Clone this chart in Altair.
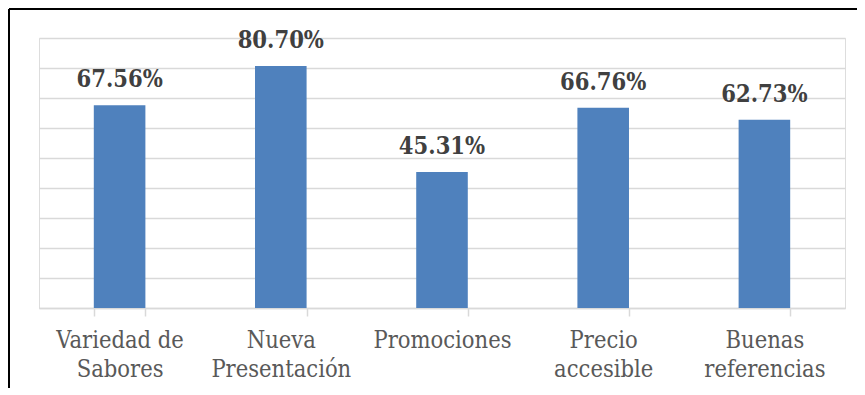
import altair as alt
import pandas as pd

categories = ["Variedad de\nSabores", "Nueva\nPresentación", "Promociones", "Precio\naccesible", "Buenas\nreferencias"]
values = [0.6756, 0.8070, 0.4531, 0.6676, 0.6273]
grid_values = [0.0, 0.1, 0.2, 0.3, 0.4, 0.5, 0.6, 0.7, 0.8, 0.9]

df = pd.DataFrame({"cat": categories, "val": values})

x = alt.X("cat:N", sort=categories, title=None,
          scale=alt.Scale(paddingInner=0.68, paddingOuter=0.34),
          axis=alt.Axis(labelAngle=0, labelExpr="split(datum.label, '\\n')",
                        labelFont="DejaVu Serif Condensed", labelFontSize=23.5, labelColor="#595959",
                        labelLineHeight=29, labelPadding=12, labelBaseline="top",
                        domainColor="#d9d9d9", domainWidth=1.5,
                        tickColor="#d9d9d9", tickWidth=1.5, tickSize=8, tickBand="extent",
                        grid=False))
y = alt.Y("val:Q", title=None,
          scale=alt.Scale(domain=[0, 0.9], nice=False),
          axis=alt.Axis(values=grid_values, labels=False, ticks=False, labelOverlap=False,
                        domain=False, grid=True, gridColor="#d9d9d9", gridWidth=1.5))

base = alt.Chart(df).encode(x=x, y=y)
bars = base.mark_bar(color="#4f81bd")
text = base.mark_text(font="DejaVu Serif Condensed", fontSize=23.5, fontWeight="bold",
                      color="#404040", baseline="bottom", dy=-13).encode(
    text=alt.Text("val:Q", format=".2%"))

top_border = alt.Chart(df).mark_rule(color="black", strokeWidth=2).encode(
    x=alt.value(-30), x2=alt.value(900), y=alt.value(-29))
left_border = alt.Chart(df).mark_rule(color="black", strokeWidth=2).encode(
    x=alt.value(-30), y=alt.value(-29), y2=alt.value(400))

chart = alt.layer(bars, text, top_border, left_border).properties(
    width=806, height=270,
    autosize=alt.AutoSizeParams(type="none"),
    padding={"left": 31, "top": 30, "right": 12, "bottom": 80},
).configure_view(stroke=None).configure(background="white")

chart.save("out.html", embed_options={"renderer": "svg", "actions": False})
